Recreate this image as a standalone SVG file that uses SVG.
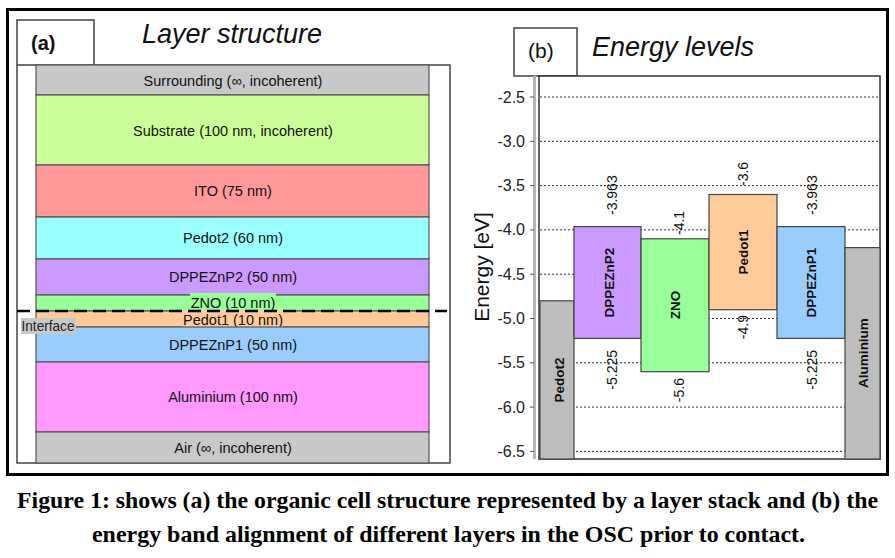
<svg xmlns="http://www.w3.org/2000/svg" width="895" height="558" viewBox="0 0 895 558">
<style>
.frame{fill:none;stroke:#000;stroke-width:3}
.panel{fill:none;stroke:#444;stroke-width:1.5}
.layer{stroke:#555;stroke-width:1.2}
.lt{font-family:"Liberation Sans",Arial,sans-serif;font-size:14.5px;fill:#111;text-anchor:middle}
.title{font-family:"Liberation Sans",Arial,sans-serif;font-size:27px;font-style:italic;fill:#111}
.tick{font-family:"Liberation Sans",Arial,sans-serif;font-size:16px;fill:#222;text-anchor:end}
.grid{stroke:#333;stroke-width:1;stroke-dasharray:2 2}
.bar{stroke:#444;stroke-width:1.2}
.bl{font-family:"Liberation Sans",Arial,sans-serif;font-size:13.5px;font-weight:bold;fill:#111;text-anchor:middle}
.vs{font-family:"Liberation Sans",Arial,sans-serif;font-size:14px;fill:#111;text-anchor:start}
.ve{font-family:"Liberation Sans",Arial,sans-serif;font-size:14px;fill:#111;text-anchor:end}
.cap{font-family:"Liberation Serif","Times New Roman",serif;font-size:24px;font-weight:bold;fill:#000;text-anchor:middle}
.gray{fill:#c8c8c8}
</style>
<rect width="895" height="558" fill="#fff"/>
<rect class="frame" x="7.5" y="9.5" width="880" height="465"/>

<!-- Left panel -->
<g id="panel-a">
  <path class="panel" d="M17,20 H94 V65 H450 V463 H17 Z M17,65 H94"/>
  <text x="31" y="50" font-family="Liberation Sans, Arial, sans-serif" font-size="20" font-weight="bold" fill="#111">(a)</text>
  <text class="title" x="142" y="43">Layer structure</text>
</g>
<g id="layer-surrounding"><rect class="layer gray" x="36" y="65" width="393" height="30"/><text class="lt" x="233" y="85.5">Surrounding (∞, incoherent)</text></g>
<g id="layer-substrate"><rect class="layer" fill="#ccff99" x="36" y="95" width="393" height="70"/><text class="lt" x="233" y="135.5">Substrate (100 nm, incoherent)</text></g>
<g id="layer-ito"><rect class="layer" fill="#ff9999" x="36" y="165" width="393" height="52"/><text class="lt" x="233" y="196">ITO (75 nm)</text></g>
<g id="layer-pedot2"><rect class="layer" fill="#99ffff" x="36" y="217" width="393" height="42"/><text class="lt" x="233" y="243">Pedot2 (60 nm)</text></g>
<g id="layer-dppeznp2"><rect class="layer" fill="#cc99ff" x="36" y="259" width="393" height="36"/><text class="lt" x="233" y="282">DPPEZnP2 (50 nm)</text></g>
<g id="layer-zno"><rect class="layer" fill="#99ff99" x="36" y="295" width="393" height="16"/><rect fill="#99ff99" x="190" y="293" width="86" height="17"/><text class="lt" x="233" y="308">ZNO (10 nm)</text></g>
<g id="layer-pedot1"><rect class="layer" fill="#ffcc99" x="36" y="311" width="393" height="16"/><rect fill="#ffcc99" x="182" y="310" width="101" height="18"/><text class="lt" x="233" y="324.5">Pedot1 (10 nm)</text></g>
<g id="layer-dppeznp1"><rect class="layer" fill="#99ccff" x="36" y="327" width="393" height="35"/><text class="lt" x="233" y="349.5">DPPEZnP1 (50 nm)</text></g>
<g id="layer-aluminium"><rect class="layer" fill="#ff99ff" x="36" y="362" width="393" height="70"/><text class="lt" x="233" y="402">Aluminium (100 nm)</text></g>
<g id="layer-air"><rect class="layer gray" x="36" y="432" width="393" height="31"/><text class="lt" x="233" y="452.5">Air (∞, incoherent)</text></g>
<g id="interface">
  <line x1="17" y1="311" x2="447" y2="311" stroke="#000" stroke-width="2.5" stroke-dasharray="13 6"/>
  <rect x="21" y="318" width="55" height="16" fill="#c8c8c8"/>
  <text x="21.5" y="330.5" font-family="Liberation Sans, Arial, sans-serif" font-size="14" fill="#222" textLength="53" lengthAdjust="spacingAndGlyphs">Interface</text>
</g>

<!-- Right panel -->
<g id="panel-b">
  <rect x="514" y="28" width="63" height="48" fill="#fff" stroke="#444" stroke-width="1.5"/>
  <text x="528" y="58" font-family="Liberation Sans, Arial, sans-serif" font-size="21" fill="#111">(b)</text>
  <text class="title" x="592" y="56">Energy levels</text>
  <rect x="539" y="76" width="341" height="383" fill="#fff" stroke="#333" stroke-width="1.5"/>
  <rect x="533" y="76" width="3" height="383" fill="#b5b5b5"/>
  <text transform="translate(489,267) rotate(-90)" font-family="Liberation Sans, Arial, sans-serif" font-size="21" fill="#111" text-anchor="middle">Energy [eV]</text>
</g>
<g id="axis">
  <g stroke="#555" stroke-width="1">
    <line x1="530" y1="97" x2="534" y2="97"/><line x1="530" y1="141.3" x2="534" y2="141.3"/><line x1="530" y1="185.6" x2="534" y2="185.6"/><line x1="530" y1="229.9" x2="534" y2="229.9"/><line x1="530" y1="274.2" x2="534" y2="274.2"/><line x1="530" y1="318.5" x2="534" y2="318.5"/><line x1="530" y1="362.8" x2="534" y2="362.8"/><line x1="530" y1="407.1" x2="534" y2="407.1"/><line x1="530" y1="451.4" x2="534" y2="451.4"/>
  </g>
  <text class="tick" x="525" y="102.5">-2.5</text>
  <text class="tick" x="525" y="146.8">-3.0</text>
  <text class="tick" x="525" y="191.1">-3.5</text>
  <text class="tick" x="525" y="235.4">-4.0</text>
  <text class="tick" x="525" y="279.7">-4.5</text>
  <text class="tick" x="525" y="324">-5.0</text>
  <text class="tick" x="525" y="368.3">-5.5</text>
  <text class="tick" x="525" y="412.6">-6.0</text>
  <text class="tick" x="525" y="456.9">-6.5</text>
  <g class="grid">
    <line x1="540" y1="97" x2="879" y2="97"/><line x1="540" y1="141.3" x2="879" y2="141.3"/><line x1="540" y1="185.6" x2="879" y2="185.6"/><line x1="540" y1="229.9" x2="879" y2="229.9"/><line x1="540" y1="274.2" x2="879" y2="274.2"/><line x1="540" y1="318.5" x2="879" y2="318.5"/><line x1="540" y1="362.8" x2="879" y2="362.8"/><line x1="540" y1="407.1" x2="879" y2="407.1"/><line x1="540" y1="451.4" x2="879" y2="451.4"/>
  </g>
</g>
<g id="bar-pedot2"><rect class="bar" fill="#bdbdbd" x="540" y="300.8" width="34" height="158.2"/><text class="bl" transform="translate(564,380) rotate(-90)">Pedot2</text></g>
<g id="bar-dppeznp2"><rect class="bar" fill="#cc99ff" x="574" y="226.6" width="67" height="111.8"/><text class="bl" transform="translate(614,282.5) rotate(-90)">DPPEZnP2</text>
  <text class="vs" transform="translate(617,215) rotate(-90)">-3.963</text><text class="ve" transform="translate(617,350) rotate(-90)">-5.225</text></g>
<g id="bar-zno"><rect class="bar" fill="#99ff99" x="641" y="238.8" width="68" height="132.9"/><text class="bl" transform="translate(680,305) rotate(-90)">ZNO</text>
  <text class="vs" transform="translate(684,235) rotate(-90)">-4.1</text><text class="ve" transform="translate(684,378) rotate(-90)">-5.6</text></g>
<g id="bar-pedot1"><rect class="bar" fill="#ffcc99" x="709" y="194.5" width="68" height="115.2"/><text class="bl" transform="translate(748,252) rotate(-90)">Pedot1</text>
  <text class="vs" transform="translate(748,186) rotate(-90)">-3.6</text><text class="ve" transform="translate(748,315) rotate(-90)">-4.9</text></g>
<g id="bar-dppeznp1"><rect class="bar" fill="#99ccff" x="777" y="226.6" width="68" height="111.8"/><text class="bl" transform="translate(816,282.5) rotate(-90)">DPPEZnP1</text>
  <text class="vs" transform="translate(817,215) rotate(-90)">-3.963</text><text class="ve" transform="translate(817,350) rotate(-90)">-5.225</text></g>
<g id="bar-aluminium"><rect class="bar" fill="#bdbdbd" x="845" y="247.6" width="35" height="211.4"/><text class="bl" transform="translate(868,353) rotate(-90)">Aluminium</text></g>

<g id="caption">
  <text class="cap" x="447.5" y="508" textLength="861" lengthAdjust="spacingAndGlyphs">Figure 1: shows (a) the organic cell structure represented by a layer stack and (b) the</text>
  <text class="cap" x="448.5" y="542" textLength="713" lengthAdjust="spacingAndGlyphs">energy band alignment of different layers in the OSC prior to contact.</text>
</g>
</svg>
